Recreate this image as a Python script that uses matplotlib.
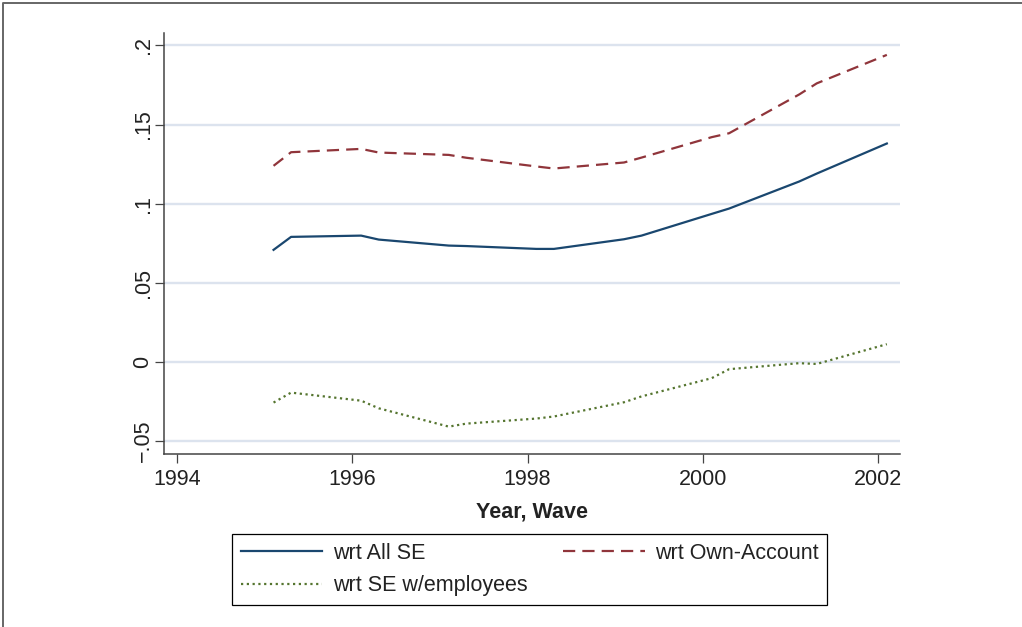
import matplotlib
matplotlib.use("Agg")
import matplotlib.pyplot as plt
from matplotlib.lines import Line2D

plt.rcParams['font.family'] = ['Liberation Sans', 'DejaVu Sans']

# survey waves (two per year)
waves = [1995.1, 1995.3, 1996.1, 1996.3, 1997.1, 1997.3, 1998.1, 1998.3,
         1999.1, 1999.3, 2000.1, 2000.3, 2001.1, 2001.3, 2002.1]
all_se = [0.0708, 0.0790, 0.0798, 0.0773, 0.0735, 0.0732, 0.0714, 0.0714,
          0.0775, 0.0798, 0.0935, 0.0969, 0.1140, 0.1190, 0.1380]
own_account = [0.1239, 0.1325, 0.1346, 0.1323, 0.1308, 0.1290, 0.1235, 0.1222,
               0.1260, 0.1291, 0.1420, 0.1445, 0.1690, 0.1760, 0.1940]
se_employees = [-0.0257, -0.0194, -0.0245, -0.0293, -0.0409, -0.0390, -0.0358, -0.0345,
                -0.0255, -0.0218, -0.0103, -0.0046, -0.0008, -0.0013, 0.0112]

xticks = [1994, 1996, 1998, 2000, 2002]
yticks = [-0.05, 0, 0.05, 0.1, 0.15, 0.2]
ylabels = ['\u2212.05', '0', '.05', '.1', '.15', '.2']

fig = plt.figure(figsize=(10.22, 6.27), dpi=100)
ax = fig.add_axes([0.1605, 0.2754, 0.7201, 0.6724])

ax.plot(waves, all_se, color='#1a476f', lw=1.6, label='wrt All SE')
ax.plot(waves, own_account, color='#90353b', lw=1.6, dashes=(5.5, 3.2),
        label='wrt Own-Account')
ax.plot(waves, se_employees, color='#55752f', lw=1.6, dashes=(1, 1.6),
        label='wrt SE w/employees')

ax.set_xlim(1993.85, 2002.25)
ax.set_ylim(-0.0584, 0.208)
ax.set_xticks(xticks)
ax.set_yticks(yticks)
ax.set_yticklabels(ylabels, rotation=90, va='center')
ax.grid(axis='y', color='#dce3ee', lw=1.7)
ax.set_axisbelow(True)

for s in ['top', 'right']:
    ax.spines[s].set_visible(False)
for s in ['left', 'bottom']:
    ax.spines[s].set_color('#444444')
    ax.spines[s].set_linewidth(1.1)
ax.tick_params(axis='both', length=6.5, width=0.9, color='#444444',
               labelsize=15.5, labelcolor='#222222')
ax.tick_params(axis='y', pad=1)
ax.tick_params(axis='x', pad=4)
ax.set_xlabel('Year, Wave', fontsize=15.5, fontweight='bold', color='#222222', labelpad=8)

handles, labels = ax.get_legend_handles_labels()
order = [0, 2, 1]
leg = fig.legend([handles[i] for i in order], [labels[i] for i in order],
                 ncol=2, loc='upper left', bbox_to_anchor=(232 / 1022, 1 - 534 / 627),
                 bbox_transform=fig.transFigure, borderaxespad=0, fontsize=15.5,
                 handlelength=3.8, handletextpad=0.48, columnspacing=1.65,
                 labelspacing=0.55, borderpad=0.4, fancybox=False,
                 edgecolor='black', framealpha=1)
leg.get_frame().set_linewidth(0.9)
for t in leg.get_texts():
    t.set_color('#222222')

# outer frame (left and top edges)
fig.add_artist(Line2D([3 / 1022, 3 / 1022, 1], [0, 1 - 3 / 627, 1 - 3 / 627],
                      transform=fig.transFigure, color='#666666', lw=1.4))

fig.savefig('out.png', dpi=100)
